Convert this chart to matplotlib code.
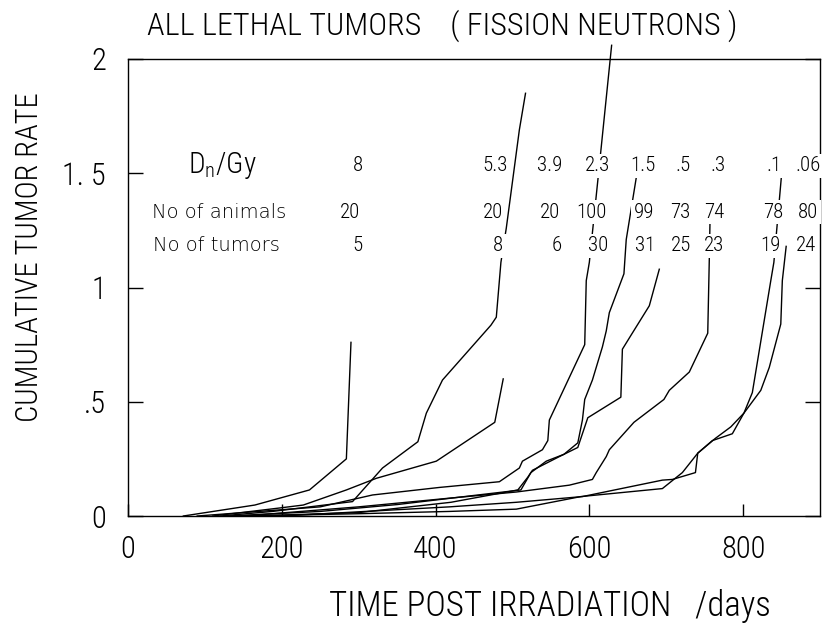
import numpy as np
import matplotlib.pyplot as plt

plt.rcParams['font.family'] = ['Roboto Condensed', 'Liberation Sans', 'DejaVu Sans']
plt.rcParams['font.weight'] = 'light'
plt.rcParams['mathtext.default'] = 'regular'

# cumulative tumor rate curves, one per dose (days post irradiation, rate)
d8_days = [72, 165, 236, 284, 290]
d8_rate = [0, 0.048, 0.114, 0.25, 0.76]

d53_days = [120, 188, 292, 331, 377, 388, 409, 472, 479, 485, 492, 509, 517]
d53_rate = [0, 0.02, 0.063, 0.21, 0.325, 0.45, 0.595, 0.835, 0.87, 1.11, 1.26, 1.69, 1.85]

d39_days = [110, 197, 228, 284, 323, 401, 477, 488]
d39_rate = [0, 0.035, 0.048, 0.114, 0.165, 0.24, 0.41, 0.60]

d23_days = [90, 250, 318, 405, 483, 509, 513, 539, 546, 548, 594, 596, 600, 612, 629]
d23_rate = [0, 0.04, 0.092, 0.125, 0.15, 0.21, 0.24, 0.29, 0.33, 0.42, 0.75, 1.03, 1.11, 1.5, 2.06]

d15_days = [130, 250, 350, 450, 511, 524, 544, 567, 585, 591, 594, 604, 617, 622, 626, 645, 648, 661]
d15_rate = [0, 0.02, 0.05, 0.09, 0.114, 0.19, 0.24, 0.27, 0.32, 0.42, 0.51, 0.595, 0.74, 0.81, 0.89, 1.06, 1.21, 1.48]

d05_days = [160, 300, 420, 507, 520, 526, 561, 585, 591, 598, 641, 643, 654, 678, 691]
d05_rate = [0, 0.015, 0.06, 0.114, 0.17, 0.20, 0.26, 0.30, 0.36, 0.43, 0.52, 0.73, 0.79, 0.92, 1.08]

d03_days = [150, 300, 418, 505, 574, 604, 609, 622, 626, 658, 697, 704, 730, 754, 756, 757]
d03_rate = [0, 0.04, 0.078, 0.105, 0.135, 0.16, 0.19, 0.26, 0.29, 0.41, 0.51, 0.55, 0.63, 0.80, 1.12, 1.30]

d01_days = [150, 300, 418, 505, 589, 695, 721, 741, 764, 784, 801, 812, 836, 840, 852]
d01_rate = [0, 0.01, 0.02, 0.03, 0.085, 0.12, 0.19, 0.275, 0.34, 0.39, 0.45, 0.54, 1.03, 1.11, 1.57]

d006_days = [200, 418, 505, 591, 695, 708, 738, 741, 760, 786, 801, 823, 834, 849, 851, 856]
d006_rate = [0, 0.04, 0.06, 0.085, 0.157, 0.16, 0.19, 0.275, 0.33, 0.36, 0.45, 0.55, 0.65, 0.84, 1.03, 1.18]

# table written in the plot
dose_labels = ['8', '5.3', '3.9', '2.3', '1.5', '.5', '.3', '.1', '.06']
n_animals = ['20', '20', '20', '100', '99', '73', '74', '78', '80']
n_tumors = ['5', '8', '6', '30', '31', '25', '23', '19', '24']
dose_x = [299, 477, 549, 610, 670, 722, 767, 840, 884]
animals_x = [289, 475, 549, 603, 671, 718, 762, 839, 885]
tumors_x = [298, 481, 558, 611, 672, 719, 762, 836, 882]

xticks = [0, 200, 400, 600, 800]
yticks = [0, 0.5, 1, 1.5, 2]
ytick_labels = ['0', '.5', '1', '1. 5', '2']

fig = plt.figure(figsize=(8.33, 6.3), dpi=100)
ax = fig.add_axes([128 / 833, 114 / 630, 692 / 833, 457 / 630])

curves = [(d8_days, d8_rate), (d53_days, d53_rate), (d39_days, d39_rate),
          (d23_days, d23_rate), (d15_days, d15_rate), (d05_days, d05_rate),
          (d03_days, d03_rate), (d01_days, d01_rate), (d006_days, d006_rate)]
for days, rate in curves:
    ax.plot(days, rate, color='black', lw=1.0, clip_on=False, zorder=2)

ax.set_xlim(0, 900)
ax.set_ylim(0, 2)
ax.set_xticks(xticks)
ax.set_xticklabels([str(v) for v in xticks])
ax.set_yticks(yticks)
ax.set_yticklabels(ytick_labels)
ax.tick_params(axis='x', direction='in', length=9, width=1.0, pad=14, labelsize=22)
ax.tick_params(axis='y', direction='in', length=11, width=1.0, pad=16, labelsize=22,
               right=True)
for s in ax.spines.values():
    s.set_linewidth(1.0)

box = dict(facecolor='white', edgecolor='none', pad=2)
ax.text(78, 1.532, r'$D_n$/Gy', fontsize=21, ha='left', va='center',
        bbox=box, zorder=4)
ax.text(31, 1.330, 'No of animals', fontsize=14, family='DejaVu Sans',
        ha='left', va='center', bbox=box, zorder=4)
ax.text(33, 1.182, 'No of tumors', fontsize=14, family='DejaVu Sans',
        ha='left', va='center', bbox=box, zorder=4)
for lab, x in zip(dose_labels, dose_x):
    ax.text(x, 1.532, lab, fontsize=15, ha='center', va='center', bbox=box, zorder=4)
for lab, x in zip(n_animals, animals_x):
    ax.text(x, 1.330, lab, fontsize=15, ha='center', va='center', bbox=box, zorder=4)
for lab, x in zip(n_tumors, tumors_x):
    ax.text(x, 1.182, lab, fontsize=15, ha='center', va='center', bbox=box, zorder=4)

fig.text(147 / 833, 1 - 26 / 630, 'ALL LETHAL TUMORS    ( FISSION NEUTRONS )',
         fontsize=23, ha='left', va='center')
fig.text(30 / 833, 1 - 257 / 630, 'CUMULATIVE TUMOR RATE', fontsize=22,
         rotation=90, ha='center', va='center')
fig.text(550 / 833, 1 - 606 / 630, 'TIME POST IRRADIATION   /days', fontsize=25,
         ha='center', va='center')

fig.savefig('out.png', dpi=100)
